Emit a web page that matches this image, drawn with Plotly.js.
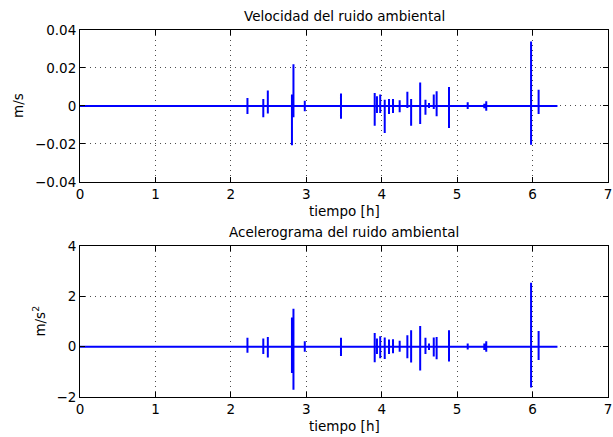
<!DOCTYPE html>
<html>
<head>
<meta charset="utf-8">
<script src="https://cdn.plot.ly/plotly-3.0.1.min.js"></script>
<style>html,body{margin:0;padding:0;background:#fff;}#plot{width:613px;height:437px;}</style>
</head>
<body>
<div id="plot"></div>
<script>
// Spike event times (hours)
const spikeTimes = [2.22, 2.43, 2.49, 2.81, 2.83, 2.98, 3.46, 3.907, 3.937, 3.98, 4.04, 4.097, 4.15, 4.238, 4.34, 4.39, 4.51, 4.58, 4.627, 4.69, 4.728, 4.892, 5.14, 5.36, 5.386, 5.98, 6.08];
// Velocity peaks (m/s)
const velMax = [0.0042, 0.0037, 0.0082, 0.006, 0.022, 0.0028, 0.0065, 0.0068, 0.0051, 0.0061, 0.0033, 0.0037, 0.0037, 0.003, 0.0075, 0.0037, 0.0123, 0.0033, 0.0016, 0.006, 0.0077, 0.010, 0.0019, 0.0012, 0.0025, 0.0339, 0.0086];
const velMin = [-0.0042, -0.006, -0.004, -0.0207, -0.006, -0.0028, -0.0067, -0.0104, -0.0037, -0.0037, -0.0142, -0.0042, -0.0037, -0.0033, -0.0011, -0.0104, -0.0095, -0.0046, -0.0011, -0.0016, -0.0054, -0.0116, -0.0016, -0.0012, -0.0025, -0.0204, -0.0042];
// Acceleration peaks (m/s^2)
const accMax = [0.36, 0.33, 0.39, 1.16, 1.51, 0.22, 0.36, 0.55, 0.33, 0.42, 0.37, 0.29, 0.30, 0.24, 0.46, 0.66, 0.82, 0.36, 0.13, 0.37, 0.39, 0.66, 0.13, 0.13, 0.22, 2.54, 0.63];
const accMin = [-0.24, -0.29, -0.43, -1.05, -1.71, -0.20, -0.37, -0.62, -0.29, -0.46, -0.49, -0.29, -0.26, -0.20, -0.46, -0.63, -0.95, -0.29, -0.13, -0.39, -0.50, -0.59, -0.11, -0.13, -0.20, -1.62, -0.53];
const recordStart = 0;
const recordEnd = 6.33;

const xTicks = [0, 1, 2, 3, 4, 5, 6, 7];
const velTicks = [-0.04, -0.02, 0, 0.02, 0.04];
const velTickText = ['\u22120.04', '\u22120.02', '0', '0.02', '0.04'];
const accTicks = [-2, 0, 2, 4];
const accTickText = ['\u22122', '0', '2', '4'];

function buildSignal(times, mx, mn) {
  const x = [recordStart], y = [0];
  times.forEach((t, i) => {
    x.push(t, t, t, t);
    y.push(0, mx[i], mn[i], 0);
  });
  x.push(recordEnd); y.push(0);
  return {x, y};
}
const vel = buildSignal(spikeTimes, velMax, velMin);
const acc = buildSignal(spikeTimes, accMax, accMin);

const FONT = 'DejaVu Sans, sans-serif';
const TFS = 13.5;
const traces = [
  {x: vel.x, y: vel.y, xaxis: 'x', yaxis: 'y', type: 'scatter', mode: 'lines',
   line: {color: '#0000ff', width: 2}, hoverinfo: 'skip'},
  {x: acc.x, y: acc.y, xaxis: 'x2', yaxis: 'y2', type: 'scatter', mode: 'lines',
   line: {color: '#0000ff', width: 2}, hoverinfo: 'skip'}
];

const GRID = {showgrid: true, gridcolor: 'rgba(0,0,0,0.7)', griddash: '1px,4px', gridwidth: 1};

function xAxis(domainAnchor) {
  return Object.assign({
    anchor: domainAnchor, domain: [0, 1], range: [0, 7],
    tickmode: 'array', tickvals: xTicks, ticktext: xTicks.map(String),
    ticks: 'inside', ticklen: 5, tickcolor: '#000', tickwidth: 1,
    showline: true, linecolor: '#000', linewidth: 1, mirror: 'ticks',
    zeroline: false, tickfont: {family: FONT, size: 13.5, color: '#000'}, fixedrange: true
  }, GRID);
}
function yAxis(anchor, dom, range, vals, text) {
  return Object.assign({
    anchor: anchor, domain: dom, range: range,
    tickmode: 'array', tickvals: vals, ticktext: text,
    ticks: 'inside', ticklen: 5, tickcolor: '#000', tickwidth: 1,
    showline: true, linecolor: '#000', linewidth: 1, mirror: 'ticks',
    zeroline: false, tickfont: {family: FONT, size: 13.5, color: '#000'}, fixedrange: true
  }, GRID);
}

const layout = {
  width: 613, height: 437,
  margin: {l: 80, r: 5, t: 30, b: 40},
  paper_bgcolor: '#fff', plot_bgcolor: '#fff',
  showlegend: false,
  font: {family: FONT, size: 13, color: '#000'},
  xaxis: xAxis('y'),
  yaxis: yAxis('x', [0.586, 1], [-0.04, 0.04], velTicks, velTickText),
  xaxis2: xAxis('y2'),
  yaxis2: yAxis('x2', [0, 0.411], [-2, 4], accTicks, accTickText),
  annotations: [
    {text: 'Velocidad del ruido ambiental', xref: 'paper', yref: 'paper', x: 0.5, y: 1,
     xanchor: 'center', yanchor: 'bottom', yshift: 4, showarrow: false, font: {family: FONT, size: TFS}},
    {text: 'Acelerograma del ruido ambiental', xref: 'paper', yref: 'paper', x: 0.5, y: 0.411,
     xanchor: 'center', yanchor: 'bottom', yshift: 4, showarrow: false, font: {family: FONT, size: TFS}},
    {text: 'tiempo [h]', xref: 'paper', yref: 'paper', x: 0.5, y: 0.586,
     xanchor: 'center', yanchor: 'top', yshift: -19, showarrow: false, font: {family: FONT, size: TFS}},
    {text: 'tiempo [h]', xref: 'paper', yref: 'paper', x: 0.5, y: 0,
     xanchor: 'center', yanchor: 'top', yshift: -19, showarrow: false, font: {family: FONT, size: TFS}},
    {text: 'm/s', xref: 'paper', yref: 'paper', x: 0, y: 0.793,
     xanchor: 'center', yanchor: 'middle', xshift: -62, textangle: -90, showarrow: false, font: {family: FONT, size: TFS}},
    {text: 'm/s<sup>2</sup>', xref: 'paper', yref: 'paper', x: 0, y: 0.2055,
     xanchor: 'center', yanchor: 'middle', xshift: -41, textangle: -90, showarrow: false, font: {family: FONT, size: TFS}}
  ]
};

Plotly.newPlot('plot', traces, layout, {staticPlot: true, displayModeBar: false});
</script>
</body>
</html>
